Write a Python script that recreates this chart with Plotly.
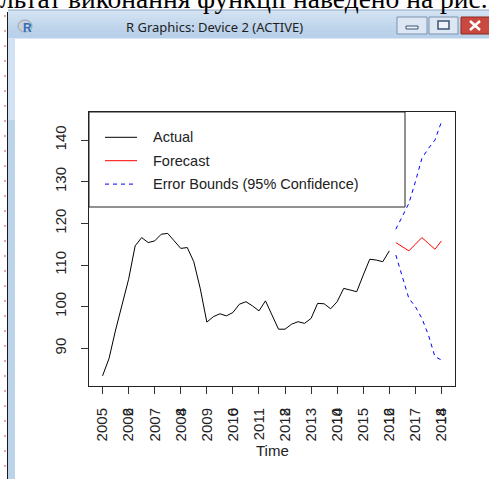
import plotly.graph_objects as go

# ---- series (quarterly) ----
actual_start = 2005.0
actual_values = [
    83.4, 87.6, 94.4, 100.4, 106.6, 114.6, 116.6, 115.4,
    115.8, 117.4, 117.6, 115.8, 114.0, 114.2, 110.8, 104.3,
    96.3, 97.6, 98.3, 97.8, 98.6, 100.6, 101.2, 100.2,
    99.0, 101.4, 98.0, 94.6, 94.6, 95.8, 96.4, 96.0,
    97.2, 100.8, 100.7, 99.5, 101.2, 104.4, 104.0, 103.6,
    107.6, 111.4, 111.2, 110.8, 113.4,
]
forecast_start = 2016.25
forecast_values = [115.4, 114.4, 113.4, 115.0, 116.6, 115.2, 113.8, 115.8]
upper_values = [118.6, 121.6, 124.8, 130.0, 135.6, 138.0, 140.0, 144.4]
lower_values = [112.4, 107.2, 102.0, 100.0, 97.2, 93.2, 88.0, 87.2]

year_ticks = list(range(2005, 2019))
year_labels = [str(y) for y in year_ticks]
index_ticks = [2006, 2008, 2010, 2012, 2014, 2016, 2018]
index_labels = ["2", "4", "6", "8", "10", "12", "14"]
value_ticks = [90, 100, 110, 120, 130, 140]

legend_labels = ["Actual", "Forecast", "Error Bounds (95% Confidence)"]
legend_colors = ["#000000", "#ff0000", "#0000ff"]

x_actual = [actual_start + i / 4 for i in range(len(actual_values))]
x_fc = [forecast_start + i / 4 for i in range(len(forecast_values))]

# ---- figure geometry (pixels) ----
W, H = 489, 479
L, R, T, B = 89, 455, 112, 386


def px(x):
    return (x - L) / (R - L)


def py(y):
    return (B - y) / (B - T)


fig = go.Figure()
fig.add_trace(go.Scatter(x=x_actual, y=actual_values, mode="lines",
                         line=dict(color="#000000", width=1), name="Actual"))
fig.add_trace(go.Scatter(x=x_fc, y=forecast_values, mode="lines",
                         line=dict(color="#ff0000", width=1), name="Forecast"))
fig.add_trace(go.Scatter(x=x_fc, y=upper_values, mode="lines",
                         line=dict(color="#0000ff", width=1, dash="4px,4px"),
                         name="Upper"))
fig.add_trace(go.Scatter(x=x_fc, y=lower_values, mode="lines",
                         line=dict(color="#0000ff", width=1, dash="4px,4px"),
                         name="Lower"))
# carrier for the second (index) axis on the bottom
fig.add_trace(go.Scatter(x=index_ticks, y=[None] * len(index_ticks), xaxis="x2",
                         mode="lines", hoverinfo="skip", showlegend=False))

xrange = [2004.48, 2018.52]
yrange = [80.96, 146.75]
tickfont = dict(family="Liberation Sans, Arial", size=15, color="#222222")

fig.update_layout(
    width=W, height=H,
    margin=dict(l=L, r=W - R, t=T, b=H - B, pad=0),
    paper_bgcolor="white", plot_bgcolor="white",
    showlegend=False,
    font=dict(family="Liberation Sans, Arial", size=14, color="#222222"),
    xaxis=dict(range=xrange, tickvals=year_ticks, ticktext=year_labels,
               tickangle=-90, ticks="outside", ticklen=7, tickcolor="#333333",
               showline=True, mirror=True, linecolor="#222222", linewidth=1,
               showgrid=False, zeroline=False, tickfont=tickfont,
               ticklabelstandoff=8),
    xaxis2=dict(range=xrange, overlaying="x", side="bottom", anchor="y",
                tickvals=index_ticks, ticktext=index_labels, tickangle=-90,
                ticks="outside", ticklen=7, tickcolor="#333333",
                showline=False, showgrid=False, zeroline=False,
                tickfont=tickfont, ticklabelstandoff=8),
    yaxis=dict(range=yrange, tickvals=value_ticks, tickangle=-90,
               ticks="outside", ticklen=7, tickcolor="#333333",
               showline=True, mirror=True, linecolor="#222222", linewidth=1,
               showgrid=False, zeroline=False, tickfont=tickfont,
               ticklabelstandoff=9),
)

shapes = []
annotations = []


def rect(x0, y0, x1, y1, fill, line=None, width=0, layer="above"):
    shapes.append(dict(type="rect", xref="paper", yref="paper",
                       x0=px(x0), x1=px(x1), y0=py(y1), y1=py(y0),
                       fillcolor=fill, layer=layer,
                       line=dict(color=line or fill, width=width)))


def seg(x0, y0, x1, y1, color, width=1, dash="solid"):
    shapes.append(dict(type="line", xref="paper", yref="paper",
                       x0=px(x0), x1=px(x1), y0=py(y0), y1=py(y1),
                       line=dict(color=color, width=width, dash=dash)))


# ---- window frame around the graphics device ----
bar_cols = ["#d3e2f3", "#cddef1", "#c8dbef", "#c3d7ed", "#bed4eb", "#bad1e9", "#b8d0e9"]
step = 28 / len(bar_cols)
for i, c in enumerate(bar_cols):
    rect(8, 10 + i * step, W + 2, 10 + (i + 1) * step + 0.5, c)
rect(8, 38, 15, 120, "#d2e2f3")
rect(8, 120, 15, H + 2, "#bcd3ea")
seg(7.5, 12, 7.5, H, "#1a1a1a", 1)
seg(5, 15, 5, 470, "#d9534f", 1, "2px,13px")
seg(8, 10, W, 10, "#8fa6c1", 1)

# caption buttons
rect(397, 17, 427, 34, "#dde7f3", "#7d93ae", 1)
rect(406, 26, 418, 29, "#eef3f9", "#3b5475", 1)
rect(429, 17, 458, 34, "#dde7f3", "#7d93ae", 1)
rect(438, 21, 449, 29, "#eef3f9", "#3b5475", 1.5)
rect(461, 17, W + 4, 34, "#c9483f", "#8e2b25", 1)
seg(470, 21, 480, 30, "white", 2.5)
seg(470, 30, 480, 21, "white", 2.5)

# R icon
shapes.append(dict(type="circle", xref="paper", yref="paper",
                   x0=px(18), x1=px(32), y0=py(32), y1=py(20),
                   fillcolor="#c9d0d8", line=dict(color="#9aa4ae", width=1)))
annotations.append(dict(text="<b>R</b>", x=px(27), y=py(27.5), xref="paper", yref="paper",
                        showarrow=False, xanchor="center", yanchor="middle",
                        font=dict(family="Liberation Sans, Arial", size=12, color="#2f6fc0")))
annotations.append(dict(text="R Graphics: Device 2 (ACTIVE)", x=px(214), y=py(27),
                        xref="paper", yref="paper", showarrow=False,
                        xanchor="center", yanchor="middle",
                        font=dict(family="Noto Sans", size=13, color="#1e1e1e")))
# document text above the window
annotations.append(dict(text="льтат виконання функції наведено на рис.", x=px(-2), y=py(-1),
                        xref="paper", yref="paper", showarrow=False,
                        xanchor="left", yanchor="middle",
                        font=dict(family="Liberation Serif", size=27.5, color="#000000")))

# ---- legend box ----
rect(L, T, 405, 207, "white", "#222222", 1)
for i, (lab, col) in enumerate(zip(legend_labels, legend_colors)):
    yy = 137.3 + i * 23.4
    seg(105, yy, 137, yy, col, 1, "4px,4px" if i == 2 else "solid")
    annotations.append(dict(text=lab, x=px(151), y=py(yy), xref="paper", yref="paper",
                            showarrow=False, xanchor="left", yanchor="middle",
                            font=dict(family="Liberation Sans, Arial", size=14.5,
                                      color="#222222")))

annotations.append(dict(text="Time", x=px(272), y=py(451), xref="paper", yref="paper",
                        showarrow=False, xanchor="center", yanchor="middle",
                        font=dict(family="Liberation Sans, Arial", size=15, color="#222222")))

fig.update_layout(shapes=shapes, annotations=annotations)
fig.write_html("out.html")
